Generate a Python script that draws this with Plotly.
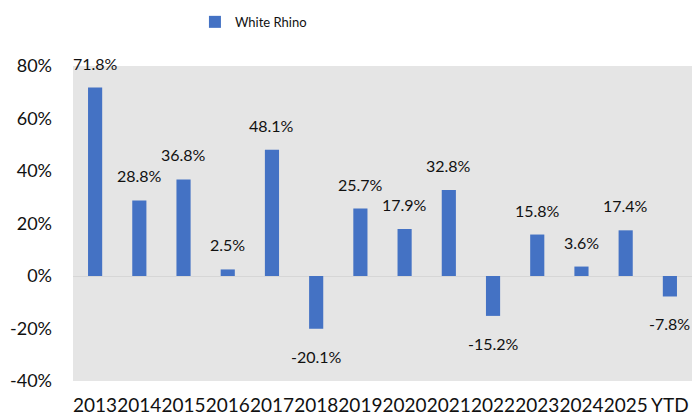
import plotly.graph_objects as go

categories = ["2013", "2014", "2015", "2016", "2017", "2018", "2019", "2020",
              "2021", "2022", "2023", "2024", "2025", "YTD"]
values = [71.8, 28.8, 36.8, 2.5, 48.1, -20.1, 25.7, 17.9, 32.8, -15.2, 15.8, 3.6, 17.4, -7.8]
series_name = "White Rhino"
y_ticks = [-40, -20, 0, 20, 40, 60, 80]
y_tick_labels = [f"{t}%" for t in y_ticks]

FONT = "Lato"
fig = go.Figure()
fig.add_trace(go.Bar(
    x=categories, y=values, name=series_name,
    marker=dict(color="#4472C4", line=dict(width=0)),
    hoverinfo="skip",
))

for i, v in enumerate(values):
    fig.add_annotation(
        x=i, y=v, text=f"{v:.1f}%", showarrow=False,
        yanchor="bottom" if v >= 0 else "top",
        yshift=13 if v >= 0 else -16,
        font=dict(family=FONT, size=16, color="#111111"),
    )

fig.update_layout(
    width=692, height=415,
    margin=dict(l=73, r=0, t=66, b=34, autoexpand=False),
    paper_bgcolor="white", plot_bgcolor="#e5e5e5",
    bargap=0.68,
    showlegend=True,
    legend=dict(orientation="h", x=0.197, xanchor="left", y=1.14, yanchor="middle",
                font=dict(family=FONT, size=13, color="#111111"),
                bgcolor="rgba(0,0,0,0)"),
    font=dict(family=FONT, color="#111111"),
    xaxis=dict(type="category", range=[-0.5, len(categories) - 0.5],
               showgrid=False, ticks="", ticklabelstandoff=11, tickangle=0,
               tickfont=dict(family=FONT, size=19, color="#111111"),
               showline=False, zeroline=False, automargin=False),
    yaxis=dict(range=[-40, 80], tickvals=y_ticks, ticktext=y_tick_labels,
               showgrid=False, zeroline=True, zerolinecolor="#d6d6d6", zerolinewidth=1,
               ticks="", ticklabelstandoff=20, automargin=False,
               tickfont=dict(family=FONT, size=18, color="#111111"),
               showline=False),
)

fig.write_html("out.html", config={"displayModeBar": False},
               post_script="document.body.style.margin='0';")
